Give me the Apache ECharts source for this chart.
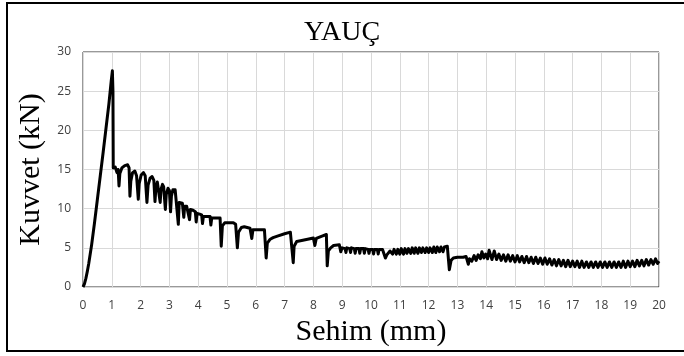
<!DOCTYPE html>
<html>
<head>
<meta charset="utf-8">
<script src="https://cdn.jsdelivr.net/npm/echarts@6/dist/echarts.min.js"></script>
<style>html,body{margin:0;padding:0;background:#fff}#c{width:684px;height:356px}</style>
</head>
<body>
<div id="c"></div>
<script>
const titleText = 'YAUÇ';
const xName = 'Sehim (mm)';
const yName = 'Kuvvet (kN)';
const xTicks = [0, 20, 1];   // min, max, step
const yTicks = [0, 30, 5];

// Deflection (mm) and force (kN)
const riseX = [0,0.05,0.1,0.15,0.2,0.3,0.4,0.5,0.6,0.7,0.8,0.9,0.98,1.02,1.04,1.05];
const riseY = [0,0.4,1.1,2,3,5.4,8.2,11.2,14.2,17.2,20.3,23.4,26.3,27.6,25,15.2];

const softX = [1.08,1.12,1.18,1.22,1.25,1.28,1.35,1.45,1.55,1.6,1.63,1.66,1.72,1.8,1.86,1.92,1.95,2.02,2.1,2.16,2.22,2.26,2.33,2.4,2.46,2.5,2.53,2.58,2.64,2.68,2.71,2.76,2.8,2.86,2.89,2.95,3.0,3.04,3.07,3.12,3.2,3.26,3.31,3.34,3.4,3.45,3.5,3.53,3.6,3.66,3.7,3.73,3.82,3.9,3.93,3.96,4.05,4.12,4.15,4.18,4.3,4.41,4.44,4.47,4.6,4.76,4.8,4.84,4.92,5.05,5.22,5.3,5.36,5.4,5.5,5.6,5.8,5.86,5.9,6.1,6.3,6.36,6.4,6.5,6.6,6.75,7.0,7.2,7.25,7.3,7.33,7.42,7.55,7.8,8.0,8.05,8.1,8.3,8.45,8.48,8.52,8.6,8.7,8.9];
const softY = [15.0,15.3,14.6,15.0,12.9,14.5,15.2,15.5,15.6,15.2,11.6,13.5,14.6,14.8,14.2,11.2,13.2,14.3,14.6,14.2,10.8,13.0,13.9,14.1,13.6,10.9,12.6,13.4,13.2,10.8,12.5,13.1,12.8,9.9,11.8,12.6,12.3,9.6,11.6,12.4,12.4,12.3,8.0,10.8,11.0,10.7,8.9,10.3,10.3,10.1,8.6,9.9,9.8,9.6,8.3,9.4,9.3,9.2,8.1,9.0,9.0,9.0,7.9,8.8,8.8,8.8,5.2,7.8,8.2,8.2,8.2,8.0,5.0,7.0,7.6,7.7,7.5,6.2,7.3,7.3,7.3,3.7,5.6,6.1,6.3,6.5,6.8,7.0,7.0,3.1,5.2,5.8,5.9,6.1,6.25,5.3,6.2,6.5,6.7,2.7,4.6,5.0,5.3,5.4];

const midX = [8.95,9.0,9.1,9.13,9.16,9.26,9.29,9.32,9.42,9.45,9.48,9.58,9.61,9.64,9.74,9.77,9.8,9.9,9.93,9.96,10.06,10.09,10.12,10.22,10.25,10.28,10.4,10.5,10.55,10.66,10.75,10.8,10.88,10.93,11.0,11.05,11.13,11.18,11.25,11.3,11.38,11.43,11.5,11.55,11.63,11.68,11.75,11.8,11.88,11.93,12.0,12.05,12.13,12.18,12.25,12.3,12.38,12.43,12.5,12.55,12.65,12.72,12.78,12.86,13.0,13.2,13.3,13.38,13.42,13.5,13.58,13.65,13.72,13.8,13.85,13.92,13.98,14.05,14.1];
const midY = [4.5,5.0,4.9,4.4,5.0,4.9,4.4,5.0,4.9,4.3,4.9,4.9,4.3,4.9,4.9,4.3,4.9,4.8,4.3,4.8,4.8,4.2,4.8,4.8,4.2,4.8,4.8,3.7,4.1,4.6,4.2,4.8,4.2,4.8,4.2,4.9,4.2,4.9,4.3,4.9,4.3,5.0,4.3,5.0,4.3,5.0,4.4,5.0,4.4,5.0,4.4,5.0,4.4,5.1,4.4,5.1,4.5,5.1,4.5,5.1,5.2,2.2,3.4,3.7,3.8,3.8,3.9,2.9,3.6,3.3,4.0,3.4,4.1,3.6,4.5,3.7,4.2,3.6,4.7];

const tailX = [14.2,14.28,14.36,14.44,14.52,14.6,14.68,14.76,14.84,14.92,15.0,15.08,15.16,15.24,15.32,15.4,15.48,15.56,15.64,15.72,15.8,15.88,15.96,16.04,16.12,16.2,16.28,16.36,16.44,16.52,16.6,16.68,16.76,16.84,16.92,17.0,17.08,17.16,17.24,17.32,17.4,17.48,17.56,17.64,17.72,17.8,17.88,17.96,18.04,18.12,18.2,18.28,18.36,18.44,18.52,18.6,18.68,18.76,18.84,18.92,19.0,19.08,19.16,19.24,19.32,19.4,19.48,19.56,19.64,19.72,19.8,19.88,19.95,20.0];
const tailY = [3.5,4.6,3.5,4.2,3.4,4.1,3.3,4.1,3.3,4.0,3.2,4.0,3.2,3.9,3.1,3.9,3.1,3.8,3.0,3.8,3.0,3.7,2.9,3.7,2.9,3.6,2.8,3.5,2.7,3.5,2.7,3.4,2.6,3.4,2.6,3.3,2.6,3.3,2.5,3.3,2.5,3.2,2.5,3.2,2.5,3.2,2.5,3.2,2.5,3.2,2.5,3.2,2.5,3.2,2.5,3.2,2.5,3.3,2.5,3.3,2.6,3.3,2.6,3.4,2.7,3.4,2.7,3.5,2.8,3.5,2.9,3.6,3.0,3.3];

const xs = riseX.concat(softX, midX, tailX);
const ys = riseY.concat(softY, midY, tailY);
const pts = xs.map((x, i) => [x, ys[i]]);

const chart = echarts.init(document.getElementById('c'));
const serif = '"Liberation Serif", "Times New Roman", serif';
const sans = '"Open Sans", "Liberation Sans", sans-serif';
chart.setOption({
  animation: false,
  backgroundColor: '#fff',
  title: {
    text: titleText, left: 'center', top: 14,
    textStyle: { fontFamily: serif, fontWeight: 'normal', fontSize: 28, color: '#000' }
  },
  graphic: [{
    type: 'rect', shape: { x: 7, y: 3, width: 690, height: 348 },
    style: { fill: 'none', stroke: '#000', lineWidth: 2 }, silent: true
  }],
  grid: { left: 83, right: 25, top: 52, bottom: 69, show: true, borderColor: '#333', borderWidth: 1 },
  xAxis: {
    type: 'value', min: xTicks[0], max: xTicks[1], interval: xTicks[2],
    name: xName, nameLocation: 'middle', nameGap: 28,
    nameTextStyle: { fontFamily: serif, fontSize: 30, color: '#000' },
    axisLine: { show: false }, axisTick: { show: false },
    axisLabel: { fontFamily: sans, fontSize: 12, color: '#404040', margin: 13 },
    splitLine: { show: true, lineStyle: { color: '#d9d9d9', width: 1 } }
  },
  yAxis: {
    type: 'value', min: yTicks[0], max: yTicks[1], interval: yTicks[2],
    name: yName, nameLocation: 'middle', nameGap: 30, nameRotate: 90,
    nameTextStyle: { fontFamily: serif, fontSize: 30, color: '#000' },
    axisLine: { show: false }, axisTick: { show: false },
    axisLabel: { fontFamily: sans, fontSize: 12, color: '#404040', margin: 12 },
    splitLine: { show: true, lineStyle: { color: '#d9d9d9', width: 1 } }
  },
  series: [{
    type: 'line', data: pts, showSymbol: false, symbol: 'none',
    lineStyle: { color: '#000', width: 3, join: 'round' }
  }]
});
</script>
</body>
</html>
